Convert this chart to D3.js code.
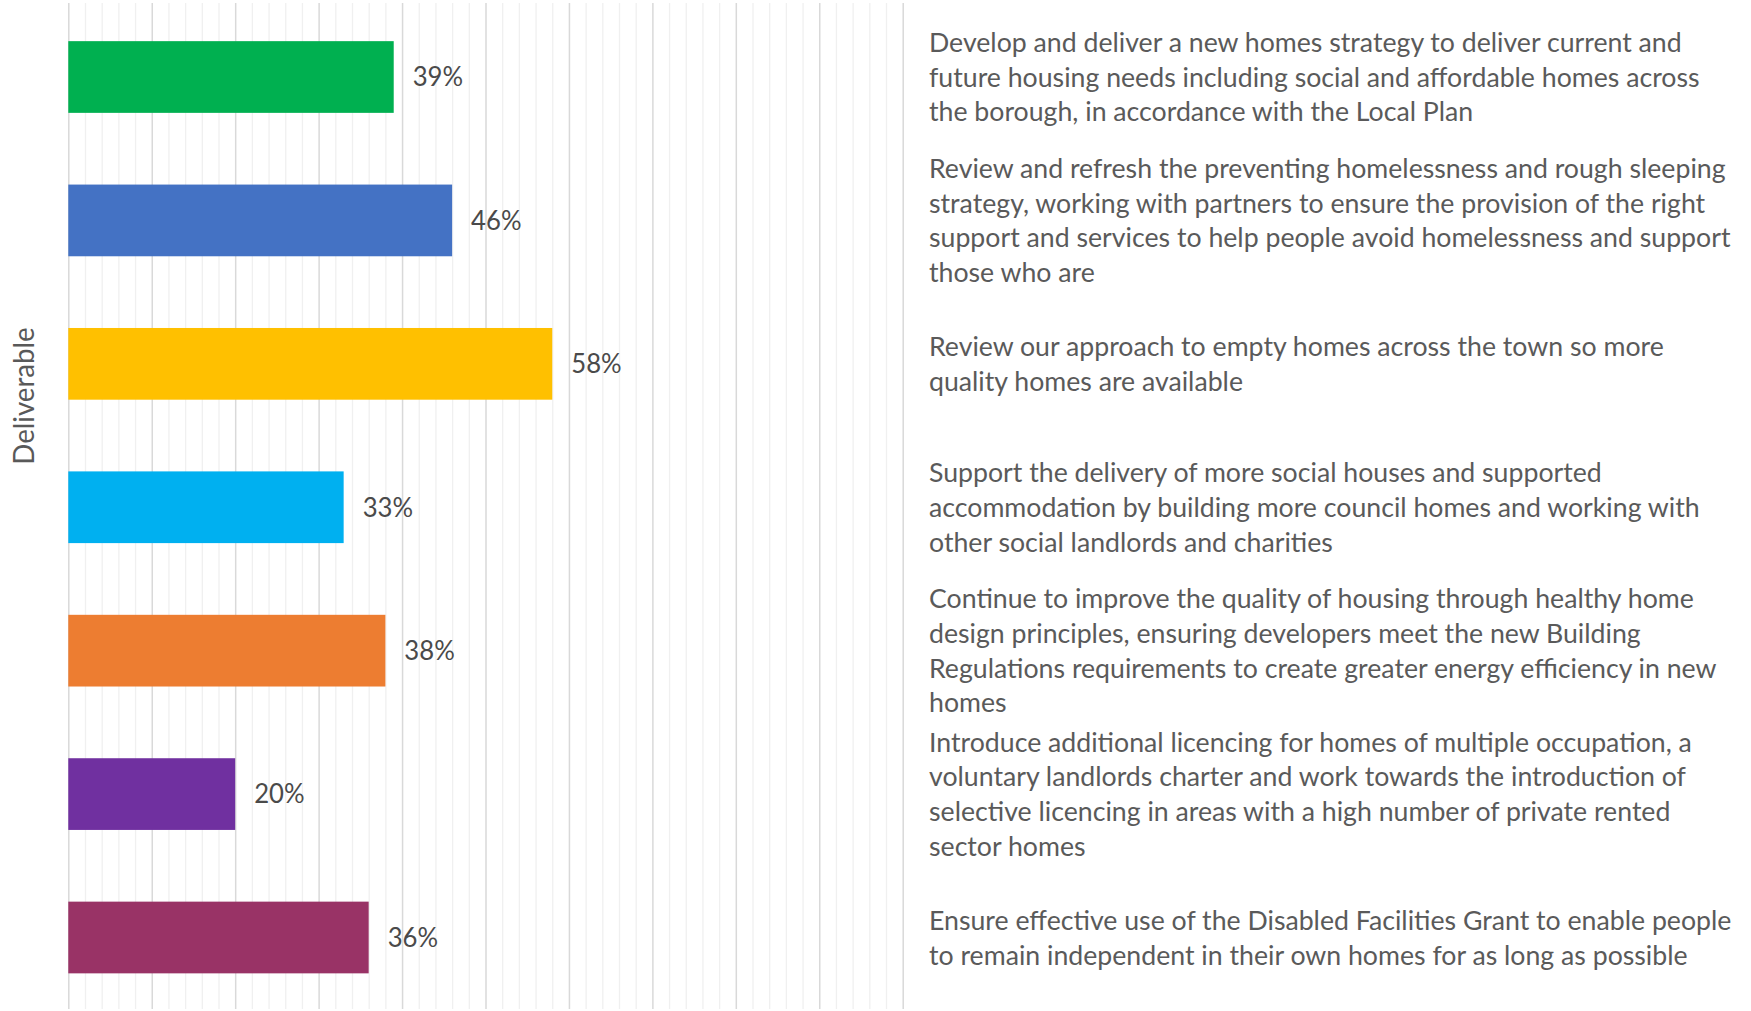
<!DOCTYPE html>
<html>
<head>
<meta charset="utf-8">
<script src="https://cdn.jsdelivr.net/npm/d3@7"></script>
<style>
  html, body { margin: 0; padding: 0; background: #ffffff; }
  svg { display: block; }
</style>
</head>
<body>
<script>
// Housing deliverables, one entry per bar (wrapped as they are printed)
const deliverableLines = [
  ["Develop and deliver a new homes strategy to deliver current and",
   "future housing needs including social and affordable homes across",
   "the borough, in accordance with the Local Plan"],
  ["Review and refresh the preventing homelessness and rough sleeping",
   "strategy, working with partners to ensure the provision of the right",
   "support and services to help people avoid homelessness and support",
   "those who are"],
  ["Review our approach to empty homes across the town so more",
   "quality homes are available"],
  ["Support the delivery of more social houses and supported",
   "accommodation by building more council homes and working with",
   "other social landlords and charities"],
  ["Continue to improve the quality of housing through healthy home",
   "design principles, ensuring developers meet the new Building",
   "Regulations requirements to create greater energy efficiency in new",
   "homes"],
  ["Introduce additional licencing for homes of multiple occupation, a",
   "voluntary landlords charter and work towards the introduction of",
   "selective licencing in areas with a high number of private rented",
   "sector homes"],
  ["Ensure effective use of the Disabled Facilities Grant to enable people",
   "to remain independent in their own homes for as long as possible"]
];
const categories = deliverableLines.map(lines => lines.join(" "));

// Share of respondents for each deliverable (%)
const percentages = [39, 46, 58, 33, 38, 20, 36];

const barColors = ["#00B050", "#4472C4", "#FFC000", "#00B0F0", "#ED7D31", "#7030A0", "#993366"];

const majorTicks = d3.range(0, 101, 10);
const minorTicks = d3.range(0, 101, 2).filter(v => v % 10 !== 0);

const axisTitle = "Deliverable";

// ---- layout ----
const W = 1751, H = 1011;
const plot = { left: 68.3, right: 902.7, top: 3, bottom: 1009 };
const barArea = { top: 5.3, bottom: 1009.2 };
const textX = 929;
const textWidestLine = 803;
const lineHeight = 34.7;
const fontFamily = "Lato, 'Open Sans', sans-serif";

const svg = d3.select("body").append("svg")
  .attr("width", W).attr("height", H)
  .style("background", "#ffffff");

const x = d3.scaleLinear().domain([0, 100]).range([plot.left, plot.right]);
const y = d3.scaleBand().domain(categories)
  .range([barArea.top, barArea.bottom])
  .paddingInner(0.5).paddingOuter(0.25);

// minor gridlines
svg.append("g")
  .attr("transform", `translate(0,${plot.bottom})`)
  .call(d3.axisBottom(x).tickValues(minorTicks).tickSize(-(plot.bottom - plot.top)).tickFormat(""))
  .call(g => g.select(".domain").remove())
  .call(g => g.selectAll(".tick line").attr("stroke", "#f0f0f0").attr("stroke-width", 1.3));

// major gridlines
svg.append("g")
  .attr("transform", `translate(0,${plot.bottom})`)
  .call(d3.axisBottom(x).tickValues(majorTicks).tickSize(-(plot.bottom - plot.top)).tickFormat(""))
  .call(g => g.select(".domain").remove())
  .call(g => g.selectAll(".tick line").attr("stroke", "#d9d9d9").attr("stroke-width", 1.5));

// bars
svg.append("g").selectAll("rect")
  .data(percentages)
  .join("rect")
  .attr("x", x(0))
  .attr("y", (d, i) => y(categories[i]))
  .attr("width", d => x(d) - x(0))
  .attr("height", y.bandwidth())
  .attr("fill", (d, i) => barColors[i]);

// measure text to condense the humanist face to the printed width
const probe = svg.append("text")
  .attr("font-family", fontFamily).attr("font-size", 27);
let widest = 0;
deliverableLines.flat().forEach(t => {
  probe.text(t);
  widest = Math.max(widest, probe.node().getComputedTextLength());
});
probe.remove();
const squeeze = textWidestLine / widest;

// value labels
svg.append("g").selectAll("text")
  .data(percentages)
  .join("text")
  .attr("transform", (d, i) => `translate(${x(d) + 19},${y(categories[i]) + y.bandwidth() / 2}) scale(${squeeze},1)`)
  .attr("dy", "0.36em")
  .attr("font-family", fontFamily)
  .attr("font-size", 26)
  .attr("fill", "#4a4a4a")
  .text(d => `${d}%`);

// axis title
svg.append("text")
  .attr("transform", `translate(24,396) rotate(-90) scale(${squeeze},1)`)
  .attr("text-anchor", "middle")
  .attr("dy", "0.36em")
  .attr("font-family", fontFamily)
  .attr("font-size", 28)
  .attr("fill", "#595959")
  .text(axisTitle);

// deliverable descriptions beside the bars
const blocks = svg.append("g").selectAll("g")
  .data(deliverableLines)
  .join("g");

blocks.each(function (lines, i) {
  const cy = y(categories[i]) + y.bandwidth() / 2;
  d3.select(this).selectAll("text")
    .data(lines)
    .join("text")
    .attr("transform", (t, j) => `translate(${textX},${cy + (j - (lines.length - 1) / 2) * lineHeight}) scale(${squeeze},1)`)
    .attr("dy", "0.36em")
    .attr("font-family", fontFamily)
    .attr("font-size", 27)
    .attr("fill", "#5a5a5a")
    .text(t => t);
});
</script>
</body>
</html>
